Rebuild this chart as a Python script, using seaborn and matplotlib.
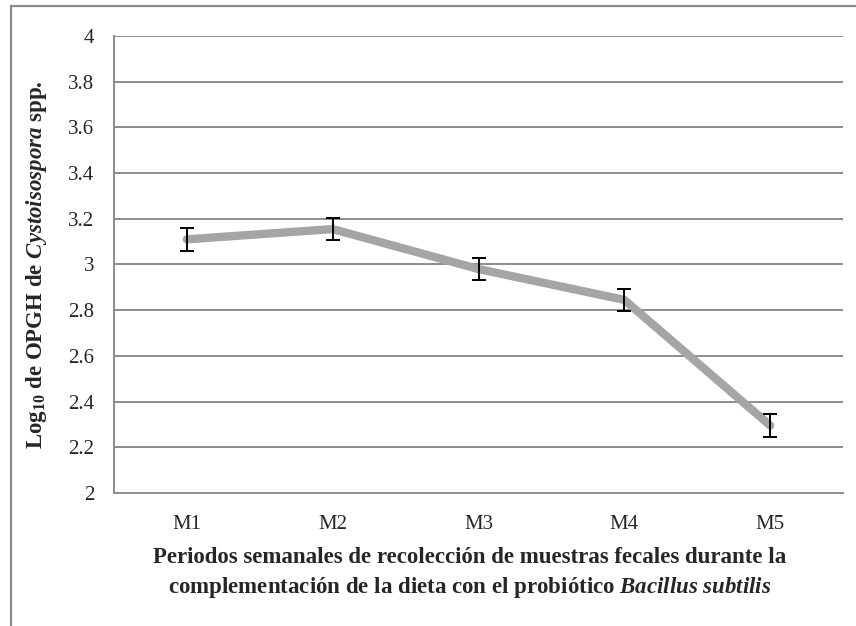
import numpy as np
import pandas as pd
import seaborn as sns
import matplotlib.pyplot as plt
from matplotlib.patches import Rectangle

# data
periodos = ["M1", "M2", "M3", "M4", "M5"]
log_opgh = [3.11, 3.155, 2.98, 2.845, 2.295]
error = [0.05, 0.047, 0.05, 0.048, 0.05]
y_ticks = [2, 2.2, 2.4, 2.6, 2.8, 3, 3.2, 3.4, 3.6, 3.8, 4]

df = pd.DataFrame({"periodo": periodos, "valor": log_opgh, "err": error})
df["pos"] = np.arange(len(periodos)) + 0.5

sns.set_style("white")
plt.rcParams["font.family"] = ["Liberation Serif", "DejaVu Serif"]
plt.rcParams["mathtext.fontset"] = "custom"
plt.rcParams["mathtext.rm"] = "Liberation Serif"
plt.rcParams["mathtext.bf"] = "Liberation Serif:bold"
plt.rcParams["mathtext.it"] = "Liberation Serif:italic"
plt.rcParams["mathtext.bfit"] = "Liberation Serif:italic:bold"

fig = plt.figure(figsize=(8.56, 6.26), dpi=100)
ax = fig.add_axes([0.133, 0.2125, 0.852, 0.73])

grid_col = "#8c8c8c"
for t in y_ticks[1:]:
    ax.axhline(t, color=grid_col, lw=1.4, zorder=0)

sns.lineplot(data=df, x="pos", y="valor", color="#a5a5a5", lw=6, ax=ax,
             solid_capstyle="round", zorder=2)
ax.errorbar(df["pos"], df["valor"], yerr=df["err"], fmt="none", ecolor="black",
            elinewidth=1.4, capsize=5, capthick=1.4, zorder=3)

ax.set_xlim(0, len(periodos))
ax.set_ylim(2, 4)
ax.set_yticks(y_ticks)
ax.set_yticklabels([f"{t:g}" for t in y_ticks])
ax.set_xticks(range(len(periodos) + 1))
ax.set_xticklabels([])
ax.set_xticks(df["pos"], minor=True)
ax.set_xticklabels(periodos, minor=True)
ax.tick_params(axis="x", which="major", direction="out", length=6, width=1.4,
               color=grid_col)
ax.tick_params(axis="x", which="minor", length=0, pad=16, labelsize=15)
ax.tick_params(axis="y", direction="out", length=6, width=1.4, color=grid_col,
               labelsize=15, pad=8)

for s in ["top", "right"]:
    ax.spines[s].set_visible(False)
for s in ["left", "bottom"]:
    ax.spines[s].set_color(grid_col)
    ax.spines[s].set_linewidth(1.4)

ax.set_xlabel("")
ax.set_ylabel(r"Log$_{\mathbf{10}}$ de OPGH de $\mathbfit{Cystoisospora}$ spp.",
              fontsize=16.5, fontweight="bold", labelpad=14)
fig.text(0.549, 0.084,
         "Periodos semanales de recolección de muestras fecales durante la\n"
         r"complementación de la dieta con el probiótico $\mathbfit{Bacillus\ subtilis}$",
         ha="center", va="center", fontsize=16.5, fontweight="bold",
         linespacing=1.35)

fig.patches.append(Rectangle((11 / 856, -0.1), 2, (626 - 6) / 626 + 0.1,
                             transform=fig.transFigure, fill=False,
                             edgecolor="#8c8c8c", lw=1.6))

fig.savefig("out.png", dpi=100)
